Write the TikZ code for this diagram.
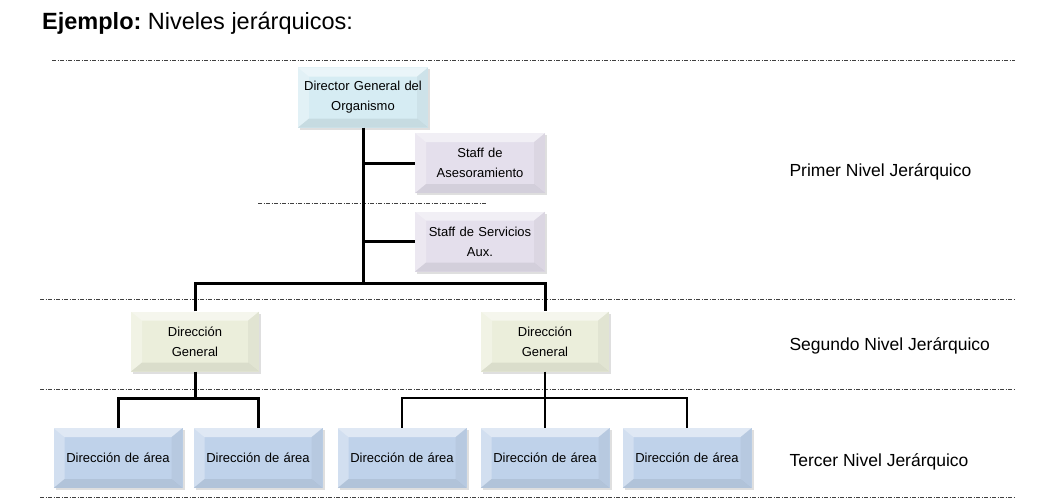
\documentclass[tikz,border=0pt]{standalone}
\usepackage{fontspec}
\setmainfont{Liberation Sans}
\usetikzlibrary{shadows}

\definecolor{dirfill}{HTML}{D6ECF3}
\definecolor{stafffill}{HTML}{E4DFEC}
\definecolor{dgfill}{HTML}{EBEEDB}
\definecolor{areafill}{HTML}{BFD2EA}

\tikzset{
  bevel/.style={
    path picture={
      \fill[white,opacity=.5] (path picture bounding box.north west) -- (path picture bounding box.north east)
        -- ([xshift=-11pt,yshift=-9pt]path picture bounding box.north east) -- ([xshift=11pt,yshift=-9pt]path picture bounding box.north west) -- cycle;
      \fill[white,opacity=.3] (path picture bounding box.north west) -- ([xshift=11pt,yshift=-9pt]path picture bounding box.north west)
        -- ([xshift=11pt,yshift=9pt]path picture bounding box.south west) -- (path picture bounding box.south west) -- cycle;
      \fill[black,opacity=.04] (path picture bounding box.north east) -- ([xshift=-11pt,yshift=-9pt]path picture bounding box.north east)
        -- ([xshift=-11pt,yshift=9pt]path picture bounding box.south east) -- (path picture bounding box.south east) -- cycle;
      \fill[black,opacity=.07] (path picture bounding box.south west) -- ([xshift=11pt,yshift=9pt]path picture bounding box.south west)
        -- ([xshift=-11pt,yshift=9pt]path picture bounding box.south east) -- (path picture bounding box.south east) -- cycle;
    }},
  box/.style={bevel, minimum width=130pt, minimum height=60pt, text width=128pt, align=center,
    inner sep=0pt, font=\fontsize{13}{20}\selectfont,
    drop shadow={opacity=.25, shadow xshift=2pt, shadow yshift=-2pt}},
  dirbox/.style={box, fill=dirfill},
  staffbox/.style={box, fill=stafffill},
  dgbox/.style={box, fill=dgfill, minimum width=128pt},
  areabox/.style={box, fill=areafill, minimum width=129pt},
  trunk/.style={line width=3pt},
  twig/.style={line width=2pt},
  levelline/.style={line width=0.6pt, black!75, dash pattern=on 4pt off 1.5pt on 1pt off 1.5pt},
  level/.style={anchor=west, font=\fontsize{17.5}{20}\selectfont}
}

\begin{document}
\begin{tikzpicture}[x=1pt,y=-1pt]
\useasboundingbox (0,0) rectangle (1049,503);

%Title
\node[anchor=west, inner sep=0pt, font=\fontsize{23.5}{26}\selectfont] (title) at (42,23) {\textbf{Ejemplo:}~Niveles jerárquicos:};

%Level lines
\draw[levelline] (52,60) -- (1015,60);
\draw[levelline] (258,203) -- (487,203);
\draw[levelline] (40,299) -- (1015,299);
\draw[levelline] (40,389) -- (1015,389);
\draw[levelline] (40,497) -- (1015,497);

%Nodes
\node[dirbox] (director) at (363,97.5) {Director General del\\Organismo};

\node[staffbox] (staffA) at (480,163) {Staff de\\Asesoramiento};
\node[staffbox] (staffS) at (480,241.5) {Staff de Servicios\\Aux.};

\node[dgbox] (dgL) at (195,341.5) {Dirección\\General};
\node[dgbox] (dgR) at (545,341.5) {Dirección\\General};

\node[areabox] (areaA) at (118,458) {Dirección de área};
\node[areabox] (areaB) at (258,458) {Dirección de área};
\node[areabox] (areaC) at (402,458) {Dirección de área};
\node[areabox] (areaD) at (545,458) {Dirección de área};
\node[areabox] (areaE) at (687,458) {Dirección de área};

\node[level] (level1) at (786,172) {Primer Nivel Jerárquico};
\node[level] (level2) at (786,346) {Segundo Nivel Jerárquico};
\node[level] (level3) at (786,462) {Tercer Nivel Jerárquico};

\coordinate (split) at (363,283);
\coordinate (forkL) at (195,398);
\coordinate (forkR) at (545,398);

%Lines
\draw[trunk] (director.south) -- (split);
\draw[trunk] (director.south |- staffA.west) -- (staffA.west);
\draw[trunk] (director.south |- staffS.west) -- (staffS.west);
\draw[trunk] (dgL.north) |- (split) -| (dgR.north);

\draw[trunk] (dgL.south) -- (forkL);
\draw[trunk] (areaA.north) |- (forkL) -| (areaB.north);

\draw[twig] (dgR.south) -- (areaD.north);
\draw[twig] (areaC.north) |- (forkR) -| (areaE.north);
\end{tikzpicture}
\end{document}
